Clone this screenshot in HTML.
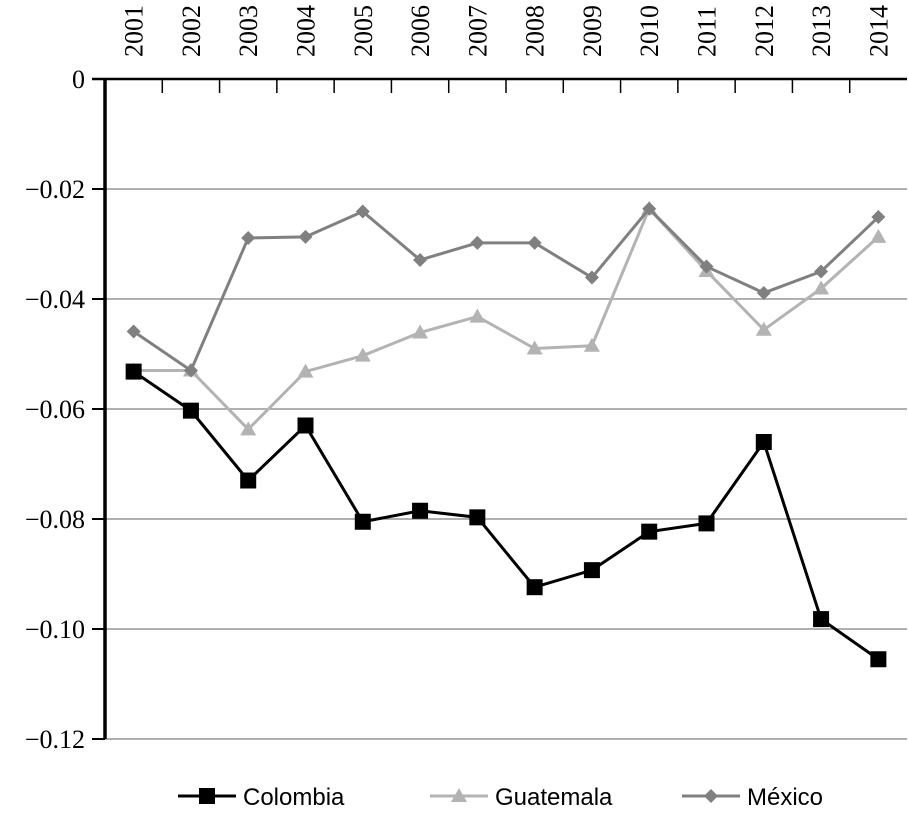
<!DOCTYPE html>
<html><head><meta charset="utf-8"><style>
html,body{margin:0;padding:0;background:#fff;}
svg{display:block;}
svg text{font-family:"Liberation Serif",serif;}
svg text.leg{font-family:"Liberation Sans",sans-serif;}
</style></head><body>
<svg id="chart" width="908" height="813" viewBox="0 0 908 813" xmlns="http://www.w3.org/2000/svg"></svg>
<script>
const years=["2001","2002","2003","2004","2005","2006","2007","2008","2009","2010","2011","2012","2013","2014"];
const colombia=[-0.0532,-0.0603,-0.0730,-0.0630,-0.0805,-0.0785,-0.0797,-0.0924,-0.0893,-0.0823,-0.0808,-0.0660,-0.0982,-0.1055];
const guatemala=[-0.0530,-0.0530,-0.0637,-0.0532,-0.0503,-0.0461,-0.0432,-0.0490,-0.0485,-0.0236,-0.0349,-0.0456,-0.0381,-0.0287];
const mexico=[-0.0459,-0.0530,-0.0289,-0.0287,-0.0241,-0.0329,-0.0298,-0.0298,-0.0361,-0.0236,-0.0341,-0.0389,-0.0350,-0.0251];
const yTicks=[0,-0.02,-0.04,-0.06,-0.08,-0.10,-0.12];
const yTickLabels=["0","\u22120.02","\u22120.04","\u22120.06","\u22120.08","\u22120.10","\u22120.12"];
const NS="http://www.w3.org/2000/svg";
const svg=document.getElementById('chart');
const L=105,R=907,T=79,B=739;
const bw=(R-L)/years.length;
function xs(i){return L+bw*(i+0.5);}
function ys(v){return T+(0-v)/0.12*(B-T);}
function mk(tag,attrs,parent){const e=document.createElementNS(NS,tag);for(const k in attrs)e.setAttribute(k,attrs[k]);(parent||svg).appendChild(e);return e;}
yTicks.forEach((v,i)=>{
  if(i>0){const g=mk('line',{x1:L,x2:R,y1:ys(v),y2:ys(v),stroke:'#808080','stroke-width':1.3});
  
  }
  const t=mk('line',{x1:92,x2:L,y1:ys(v),y2:ys(v),stroke:'#000','stroke-width':2});
  
  
  const lb=mk('text',{x:85,y:ys(v)+9,'text-anchor':'end','font-size':26});
  lb.textContent=yTickLabels[i];
  
  
});
const xa=mk('line',{x1:92,x2:R,y1:T,y2:T,stroke:'#000','stroke-width':2.5});


const ya=mk('line',{x1:L,x2:L,y1:T-1,y2:B,stroke:'#000','stroke-width':3.5});


years.forEach((y,i)=>{
  if(i>0){const t=mk('line',{x1:L+bw*i,x2:L+bw*i,y1:T,y2:T+14,stroke:'#000','stroke-width':1.5});
  
  }
  const x=xs(i)+9;
  const lb=mk('text',{x:x,y:57,'font-size':26,transform:`rotate(-90 ${x} 57)`});
  lb.textContent=y;
  
  
});
function marker(type,x,y,color,g){
  if(type==='sq')return mk('rect',{x:x-8,y:y-8,width:16,height:16,fill:color},g);
  if(type==='tri')return mk('polygon',{points:`${x},${y-8} ${x+8},${y+6} ${x-8},${y+6}`,fill:color},g);
  return mk('polygon',{points:`${x},${y-7} ${x+7},${y} ${x},${y+7} ${x-7},${y}`,fill:color},g);
}
function series(name,data,color,type,w){
  const g=mk('g',{});
  
  
  mk('polyline',{points:data.map((v,i)=>xs(i)+','+ys(v)).join(' '),fill:'none',stroke:color,'stroke-width':w},g);
  data.forEach((v,i)=>{const m=marker(type,xs(i),ys(v),color,g);
    
    });
}
series('guatemala',guatemala,'#b3b3b3','tri',3);
series('mexico',mexico,'#808080','dia',3);
series('colombia',colombia,'#000','sq',3);
const leg=[["Colombia",'#000','sq',178],["Guatemala",'#b3b3b3','tri',430],["México",'#808080','dia',682]];
leg.forEach(l=>{
  const g=mk('g',{});
  
  
  mk('line',{x1:l[3],x2:l[3]+58,y1:796,y2:796,stroke:l[1],'stroke-width':3},g);
  marker(l[2],l[3]+29,796,l[1],g);
  const t=mk('text',{x:l[3]+65,y:805,'font-size':24,'class':'leg'},g);
  t.textContent=l[0];
});
</script>
</body></html>
